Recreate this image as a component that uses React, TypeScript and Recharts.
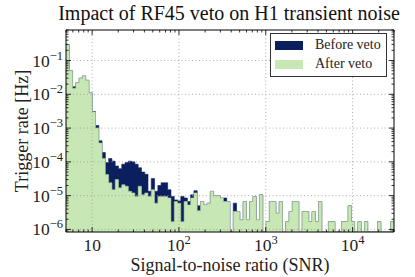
import React from 'react';
import { ComposedChart, Area, XAxis, YAxis, ReferenceLine } from 'recharts';

const SNR_MIN = 5;
const SNR_MAX = 30000;
const N_BINS = 100;
const RATE_MIN = 8.4e-7;
const RATE_MAX = 0.8;

// trigger rate per log-spaced SNR bin [Hz], 0 = empty bin
const afterVeto = [
  0.3, 0.05, 0.015, 0.022, 0.03, 0.035, 0.026, 0.011, 0.003, 1.0e-3,
  3.6e-4, 1.25e-4, 4.2e-5, 2.4e-5, 1.5e-5, 3.0e-5, 1.7e-5, 2.1e-5, 1.9e-5, 1.34e-5,
  1.2e-5, 9.5e-6, 1.9e-5, 1.06e-5, 1.2e-5, 9.5e-6, 1.5e-5, 6.0e-6, 9.5e-6, 9.5e-6,
  9.5e-6, 8.5e-6, 1.7e-6, 6.7e-6, 6.0e-6, 1.7e-6, 6.7e-6, 5.3e-6, 8.5e-6, 1.2e-5,
  3.6e-6, 6.7e-6, 5.3e-6, 6.0e-6, 1.34e-5, 1.0e-5, 1.0e-5, 8.5e-6, 6.7e-6, 6.7e-6,
  0, 3.4e-6, 3.4e-6, 1.9e-6, 6.7e-6, 1.9e-6, 6.7e-6, 9.5e-6, 1.9e-6, 1.06e-5,
  0, 1.7e-6, 6.7e-6, 6.7e-6, 3.0e-6, 6.7e-6, 0, 1.7e-6, 3.4e-6, 6.7e-6,
  6.7e-6, 0, 3.4e-6, 3.4e-6, 1.7e-6, 3.4e-6, 1.7e-6, 6.7e-6, 0, 0,
  1.7e-6, 1.7e-6, 0, 0, 1.7e-6, 1.7e-6, 5.0e-6, 1.7e-6, 0, 1.7e-6,
  0, 1.7e-6, 0, 0, 0, 1.7e-6, 0, 0, 0, 1.7e-6,
];

const beforeVeto = [
  0.3, 0.05, 0.0168, 0.022, 0.03, 0.035, 0.026, 0.011, 0.0031, 1.2e-3,
  4.2e-4, 1.9e-4, 9.5e-5, 1.25e-4, 1.05e-4, 7.5e-5, 6.3e-5, 8.5e-5, 9.5e-5, 1.05e-4,
  1.0e-4, 8.5e-5, 6.7e-5, 5.0e-5, 4.3e-5, 1.34e-5, 3.2e-5, 1.34e-5, 2.0e-5, 2.4e-5,
  2.4e-5, 1.5e-5, 9.5e-6, 7.5e-6, 7.0e-6, 9.5e-6, 8.5e-6, 6.7e-6, 1.06e-5, 1.4e-5,
  5.0e-6, 6.7e-6, 5.3e-6, 6.0e-6, 1.34e-5, 1.0e-5, 1.0e-5, 8.5e-6, 8.5e-6, 6.7e-6,
  0, 6.0e-6, 3.4e-6, 1.9e-6, 6.7e-6, 1.9e-6, 6.7e-6, 9.5e-6, 1.9e-6, 1.06e-5,
  0, 1.7e-6, 6.7e-6, 6.7e-6, 3.0e-6, 6.7e-6, 0, 1.7e-6, 3.4e-6, 6.7e-6,
  6.7e-6, 0, 3.4e-6, 3.4e-6, 1.7e-6, 3.4e-6, 1.7e-6, 6.7e-6, 0, 0,
  1.7e-6, 1.7e-6, 0, 0, 1.7e-6, 1.7e-6, 5.0e-6, 1.7e-6, 0, 1.7e-6,
  0, 1.7e-6, 0, 0, 0, 1.7e-6, 0, 0, 0, 1.7e-6,
];

const xMajor = [10, 100, 1000, 10000];
const yMajor = [1e-6, 1e-5, 1e-4, 1e-3, 1e-2, 1e-1];
const seriesNames = ['Before veto', 'After veto'];

const NAVY = '#0b1f5e';
const GREEN = '#c7e7b4';
const SERIF = '"Liberation Serif", "DejaVu Serif", serif';
const MAJOR_LEN = 5;
const MINOR_LEN = 2.5;

// log-spaced bin edges, last point repeats the last bin for the step
const logStep = Math.log10(SNR_MAX / SNR_MIN) / N_BINS;
const edges = Array.from({ length: N_BINS + 1 }, (_, i) =>
  i === N_BINS ? SNR_MAX : SNR_MIN * Math.pow(10, i * logStep)
);
const orFloor = (v: number) => (v > 0 ? v : RATE_MIN);
const data = edges.map((snr, i) => {
  const j = Math.min(i, N_BINS - 1);
  return { snr, before: orFloor(beforeVeto[j]), after: orFloor(afterVeto[j]) };
});

function logTicks(lo: number, hi: number) {
  const out: number[] = [];
  for (let e = Math.floor(Math.log10(lo)); e <= Math.ceil(Math.log10(hi)); e++) {
    for (let m = 1; m < 10; m++) {
      const v = m * Math.pow(10, e);
      if (v >= lo * 0.999 && v <= hi * 1.001) out.push(v);
    }
  }
  return out;
}
const xTicks = logTicks(SNR_MIN, SNR_MAX);
const yTicks = logTicks(RATE_MIN, RATE_MAX);

const exponentOf = (v: number) => Math.round(Math.log10(v));
const isMajor = (v: number) => Math.abs(Math.log10(v) - exponentOf(v)) < 1e-6;

function BottomTick({ x, y, payload }: any) {
  const major = isMajor(payload.value);
  const e = exponentOf(payload.value);
  return (
    <g>
      <line x1={x} x2={x} y1={y} y2={y - (major ? MAJOR_LEN : MINOR_LEN)} stroke="#000" strokeWidth={0.8} />
      {major && (
        <text x={x} y={y + 19} textAnchor="middle" fontFamily={SERIF} fontSize={17.5} fill="#222">
          10
          {e !== 1 && (
            <tspan dy={-7} fontSize={12.5}>
              {e}
            </tspan>
          )}
        </text>
      )}
    </g>
  );
}

function TopTick({ x, y, payload }: any) {
  const major = isMajor(payload.value);
  return <line x1={x} x2={x} y1={y} y2={y + (major ? MAJOR_LEN : MINOR_LEN)} stroke="#000" strokeWidth={0.8} />;
}

function LeftTick({ x, y, payload }: any) {
  const major = isMajor(payload.value);
  const e = exponentOf(payload.value);
  return (
    <g>
      <line x1={x} x2={x + (major ? MAJOR_LEN : MINOR_LEN)} y1={y} y2={y} stroke="#000" strokeWidth={0.8} />
      {major && (
        <text x={x - 3} y={y + 6} textAnchor="end" fontFamily={SERIF} fontSize={17.5} fill="#222">
          10
          <tspan dy={-7} fontSize={12.5}>
            {'\u2212' + Math.abs(e)}
          </tspan>
        </text>
      )}
    </g>
  );
}

function RightTick({ x, y, payload }: any) {
  const major = isMajor(payload.value);
  return <line x1={x} x2={x - (major ? MAJOR_LEN : MINOR_LEN)} y1={y} y2={y} stroke="#000" strokeWidth={0.8} />;
}

const axisCommon = {
  type: 'number' as const,
  scale: 'log' as const,
  allowDataOverflow: true,
  interval: 0 as const,
  tickLine: false,
  tickSize: 0,
  tickMargin: 0,
  axisLine: { stroke: '#000', strokeWidth: 1 },
};

export default function App() {
  return (
    <div style={{ position: 'absolute', left: 0, top: 0, width: 415, height: 277, background: '#fff' }}>
      <ComposedChart
        width={415}
        height={277}
        data={data}
        margin={{ top: 29, right: 20, bottom: 44, left: 65 }}
      >
        <XAxis {...axisCommon} xAxisId="b" dataKey="snr" domain={[SNR_MIN, SNR_MAX]} ticks={xTicks} height={1} tick={<BottomTick />} />
        <XAxis {...axisCommon} xAxisId="t" dataKey="snr" orientation="top" domain={[SNR_MIN, SNR_MAX]} ticks={xTicks} height={1} tick={<TopTick />} />
        <YAxis {...axisCommon} yAxisId="l" domain={[RATE_MIN, RATE_MAX]} ticks={yTicks} width={1} tick={<LeftTick />} />
        <YAxis {...axisCommon} yAxisId="r" orientation="right" domain={[RATE_MIN, RATE_MAX]} ticks={yTicks} width={1} tick={<RightTick />} />
        <Area
          xAxisId="b"
          yAxisId="l"
          dataKey="before"
          name={seriesNames[0]}
          type="stepAfter"
          baseValue={RATE_MIN}
          fill={NAVY}
          fillOpacity={1}
          stroke={NAVY}
          strokeWidth={0.6}
          dot={false}
          activeDot={false}
          isAnimationActive={false}
        />
        <Area
          xAxisId="b"
          yAxisId="l"
          dataKey="after"
          name={seriesNames[1]}
          type="stepAfter"
          baseValue={RATE_MIN}
          fill={GREEN}
          fillOpacity={1}
          stroke="#a9c89c"
          strokeWidth={0.6}
          dot={false}
          activeDot={false}
          isAnimationActive={false}
        />
        <Area
          xAxisId="t"
          yAxisId="r"
          dataKey="after"
          type="stepAfter"
          baseValue={RATE_MIN}
          fill="none"
          stroke="none"
          dot={false}
          activeDot={false}
          legendType="none"
          isAnimationActive={false}
        />
        {xMajor.map((v) => (
          <ReferenceLine key={'gx' + v} xAxisId="b" yAxisId="l" x={v} stroke="#9a9a9a" strokeWidth={0.8} strokeDasharray="1 2.5" />
        ))}
        {yMajor.map((v) => (
          <ReferenceLine key={'gy' + v} xAxisId="b" yAxisId="l" y={v} stroke="#9a9a9a" strokeWidth={0.8} strokeDasharray="1 2.5" />
        ))}
      </ComposedChart>

      <div
        style={{
          position: 'absolute', left: 40, top: 2, width: 378, textAlign: 'center',
          fontFamily: SERIF, fontSize: 20, lineHeight: '22px', color: '#111', whiteSpace: 'nowrap',
        }}
      >
        Impact of RF45 veto on H1 transient noise
      </div>
      <div
        style={{
          position: 'absolute', left: 80, top: 255, width: 300, textAlign: 'center',
          fontFamily: SERIF, fontSize: 18, lineHeight: '20px', color: '#222', whiteSpace: 'nowrap',
        }}
      >
        Signal-to-noise ratio (SNR)
      </div>
      <div
        style={{
          position: 'absolute', left: 22 - 100, top: 131 - 10, width: 200, height: 20, textAlign: 'center',
          fontFamily: SERIF, fontSize: 18, lineHeight: '20px', color: '#222', whiteSpace: 'nowrap',
          transform: 'rotate(-90deg)',
        }}
      >
        Trigger rate [Hz]
      </div>

      <div
        style={{
          position: 'absolute', left: 270, top: 33, width: 117, height: 44, boxSizing: 'border-box',
          border: '1px solid #333', background: '#fff', fontFamily: SERIF, fontSize: 14, color: '#222',
        }}
      >
        {seriesNames.map((name, i) => (
          <div key={name} style={{ position: 'absolute', left: 0, top: 6 + i * 19, height: 12, width: 115 }}>
            <div style={{ position: 'absolute', left: 4, top: 1, width: 28, height: 9, background: i === 0 ? NAVY : GREEN }} />
            <div style={{ position: 'absolute', left: 44, top: -3, lineHeight: '16px', whiteSpace: 'nowrap' }}>{name}</div>
          </div>
        ))}
      </div>
    </div>
  );
}
